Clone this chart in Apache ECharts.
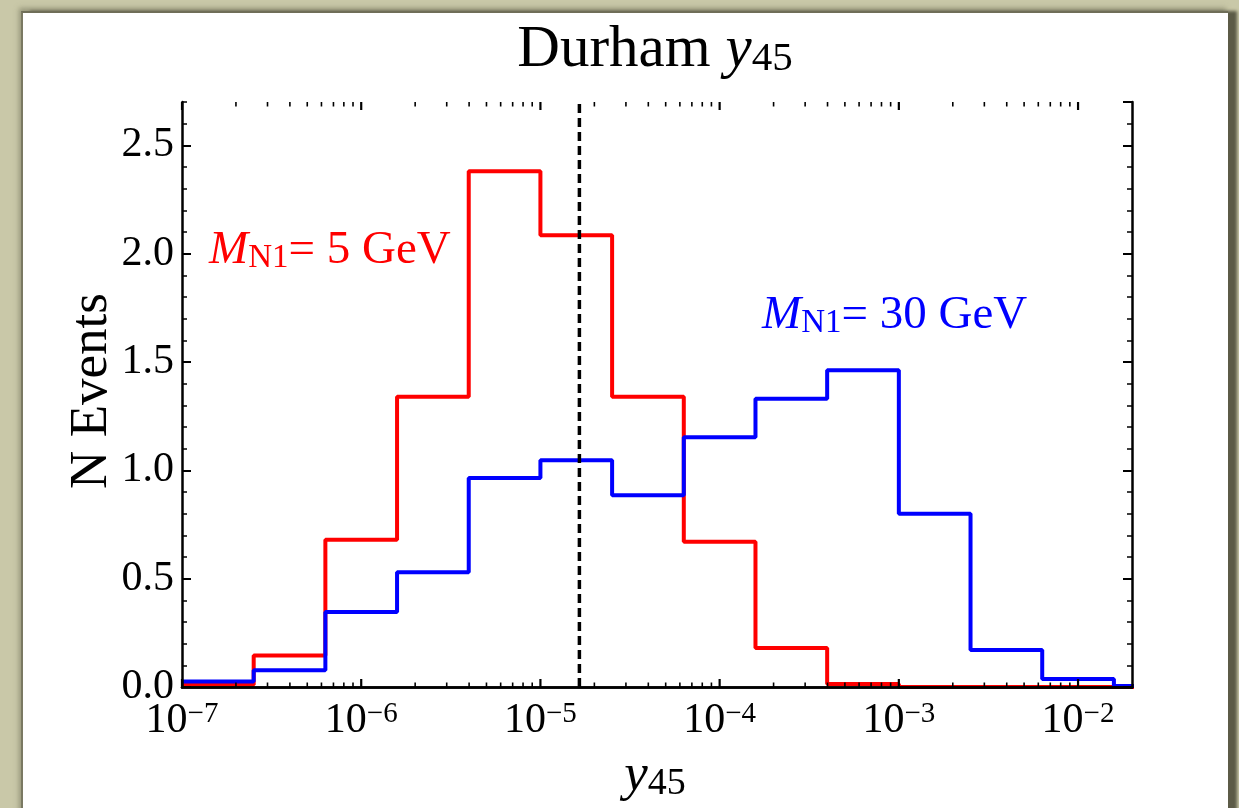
<!DOCTYPE html>
<html><head><meta charset="utf-8">
<script src="https://cdn.jsdelivr.net/npm/echarts@6/dist/echarts.min.js"></script>
<style>
html,body{margin:0;padding:0;width:1239px;height:808px;overflow:hidden;background:#c9c8a8;}
#panel{position:absolute;left:21px;top:11px;width:1205px;height:840px;background:#fff;border-left:2px solid #7a7962;border-top:2px solid #6f6e58;box-shadow:9px 0 3px #5c5b47,-2px -3px 5px rgba(110,110,85,0.55);}
#chart{position:absolute;left:0;top:0;width:1239px;height:808px;}
</style></head>
<body><div id="panel"></div><div id="chart"></div>
<script>
// ---- data ----
const binEdges = [1e-7, 2.512e-7, 6.310e-7, 1.585e-6, 3.981e-6, 1e-5, 2.512e-5, 6.310e-5, 1.585e-4, 3.981e-4, 1e-3, 2.512e-3, 6.310e-3, 1.585e-2, 3.981e-2];
const redMN5 = [0.01, 0.145, 0.68, 1.34, 2.38, 2.085, 1.34, 0.67, 0.18, 0.014, 0, 0, 0, 0];
const blueMN30 = [0.025, 0.077, 0.346, 0.53, 0.965, 1.047, 0.885, 1.153, 1.33, 1.462, 0.8, 0.171, 0.037, 0.005];
const cutValue = 1.65e-5;
const xMin = 1e-7, xMax = 0.02;
const yMin = 0, yMax = 2.7;
const yMajorStep = 0.5, yMinorStep = 0.1;
const xTickExponents = [-7, -6, -5, -4, -3, -2];
const minorMultipliers = [2, 3, 4, 5, 6, 7, 8, 9];

const FONT = "'Liberation Serif','Times New Roman',serif";

function stepData(vals) {
  const d = vals.map((v, i) => [binEdges[i], v]);
  d.push([binEdges[vals.length], vals[vals.length - 1]]);
  return d;
}
// tick marks for the log x axis: [value, length]
const xTickMarks = [];
xTickExponents.forEach(e => {
  xTickMarks.push([Math.pow(10, e), 8]);
  minorMultipliers.forEach(m => {
    const v = m * Math.pow(10, e);
    if (v < xMax) xTickMarks.push([v, 4.5]);
  });
});

const chart = echarts.init(document.getElementById('chart'), null, {renderer: 'canvas'});

function xLabel(v) {
  const e = Math.round(Math.log10(v));
  return '{b|10}{s|' + (e < 0 ? '−' + (-e) : e) + '}';
}

const frameLine = {show: true, lineStyle: {color: '#000', width: 2.5}};
const baseX = {type: 'log', logBase: 10, min: xMin, max: xMax, splitLine: {show: false}, z: 5};
const baseY = {type: 'value', min: yMin, max: yMax, splitLine: {show: false}, z: 5};

chart.setOption({
  animation: false,
  backgroundColor: 'transparent',
  grid: {left: 182, right: 107, top: 102, bottom: 121, containLabel: false, outerBoundsMode: 'none'},
  xAxis: [
    Object.assign({}, baseX, {
      position: 'bottom',
      axisLine: frameLine,
      axisTick: {show: false},
      axisLabel: {
        show: true, showMaxLabel: false, margin: 13, formatter: xLabel,
        rich: {
          b: {fontFamily: FONT, fontSize: 42, color: '#000', lineHeight: 42},
          s: {fontFamily: FONT, fontSize: 29, color: '#000', verticalAlign: 'top', lineHeight: 26}
        }
      }
    }),
    Object.assign({}, baseX, {
      position: 'top',
      axisLine: frameLine,
      axisTick: {show: false},
      axisLabel: {show: false}
    })
  ],
  yAxis: [
    Object.assign({}, baseY, {
      position: 'left', interval: yMajorStep,
      axisLine: frameLine,
      axisTick: {show: true, inside: true, length: 9, lineStyle: {color: '#000', width: 2}},
      axisLabel: {show: true, showMaxLabel: false, margin: 8, color: '#000', fontFamily: FONT, fontSize: 42,
        formatter: v => v.toFixed(1)}
    }),
    Object.assign({}, baseY, {
      position: 'left', interval: yMinorStep,
      axisLine: {show: false},
      axisTick: {show: true, inside: true, length: 5, lineStyle: {color: '#000', width: 1.5}},
      axisLabel: {show: false}
    }),
    Object.assign({}, baseY, {
      position: 'right', interval: yMajorStep,
      axisLine: frameLine,
      axisTick: {show: true, inside: true, length: 9, lineStyle: {color: '#000', width: 2}},
      axisLabel: {show: false}
    }),
    Object.assign({}, baseY, {
      position: 'right', interval: yMinorStep,
      axisLine: {show: false},
      axisTick: {show: true, inside: true, length: 5, lineStyle: {color: '#000', width: 1.5}},
      axisLabel: {show: false}
    })
  ],
  series: [
    {
      name: 'MN1 = 5 GeV', type: 'line', step: 'end', data: stepData(redMN5),
      showSymbol: false, symbol: 'none', clip: true, z: 2,
      lineStyle: {color: '#ff0000', width: 4}
    },
    {
      name: 'MN1 = 30 GeV', type: 'line', step: 'end', data: stepData(blueMN30),
      showSymbol: false, symbol: 'none', clip: true, z: 3,
      lineStyle: {color: '#0000ff', width: 4}
    },
    {
      name: 'cut', type: 'line', data: [[cutValue, yMin], [cutValue, yMax]],
      showSymbol: false, symbol: 'none', z: 4,
      lineStyle: {color: '#000', width: 3.5, type: [9, 5]}
    },
    {
      name: 'xTicks', type: 'custom', data: xTickMarks, z: 6, silent: true, clip: false,
      renderItem: function (params, api) {
        const v = api.value(0);
        const len = api.value(1);
        const b = api.coord([v, yMin]);
        const t = api.coord([v, yMax]);
        const w = len > 6 ? 2.2 : 1.6;
        return {type: 'group', children: [
          {type: 'line', shape: {x1: b[0], y1: b[1], x2: b[0], y2: b[1] - len}, style: {stroke: '#000', lineWidth: w}},
          {type: 'line', shape: {x1: t[0], y1: t[1], x2: t[0], y2: t[1] + len}, style: {stroke: '#000', lineWidth: w}}
        ]};
      }
    }
  ],
  graphic: [
    {type: 'text', x: 655, y: 50, z: 10, style: {
      text: '{a|Durham }{b|y}{c|45}', align: 'center', verticalAlign: 'middle',
      rich: {
        a: {fontFamily: FONT, fontSize: 59, fill: '#000', lineHeight: 60},
        b: {fontFamily: FONT, fontSize: 59, fontStyle: 'italic', fill: '#000', lineHeight: 60},
        c: {fontFamily: FONT, fontSize: 41, fill: '#000', verticalAlign: 'bottom', lineHeight: 38}
      }}},
    {type: 'text', x: 92, y: 391, rotation: Math.PI / 2, z: 10, style: {
      text: 'N Events', align: 'center', verticalAlign: 'middle',
      fontFamily: FONT, fontSize: 53, fill: '#000'}},
    {type: 'text', x: 655, y: 776, z: 10, style: {
      text: '{b|y}{c|45}', align: 'center', verticalAlign: 'middle',
      rich: {
        b: {fontFamily: FONT, fontSize: 53, fontStyle: 'italic', fill: '#000', lineHeight: 54},
        c: {fontFamily: FONT, fontSize: 38, fill: '#000', verticalAlign: 'bottom', lineHeight: 34}
      }}},
    {type: 'text', x: 209, y: 251, z: 10, style: {
      text: '{m|M}{s|N1}{t|= 5 GeV}', align: 'left', verticalAlign: 'middle',
      rich: {
        m: {fontFamily: FONT, fontSize: 47, fontStyle: 'italic', fill: '#ff0000', lineHeight: 48},
        s: {fontFamily: FONT, fontSize: 33, fill: '#ff0000', verticalAlign: 'bottom', lineHeight: 30},
        t: {fontFamily: FONT, fontSize: 47, fill: '#ff0000', lineHeight: 48}
      }}},
    {type: 'text', x: 762, y: 316, z: 10, style: {
      text: '{m|M}{s|N1}{t|= 30 GeV}', align: 'left', verticalAlign: 'middle',
      rich: {
        m: {fontFamily: FONT, fontSize: 47, fontStyle: 'italic', fill: '#0000ff', lineHeight: 48},
        s: {fontFamily: FONT, fontSize: 33, fill: '#0000ff', verticalAlign: 'bottom', lineHeight: 30},
        t: {fontFamily: FONT, fontSize: 47, fill: '#0000ff', lineHeight: 48}
      }}}
  ]
});
</script>
</body></html>
